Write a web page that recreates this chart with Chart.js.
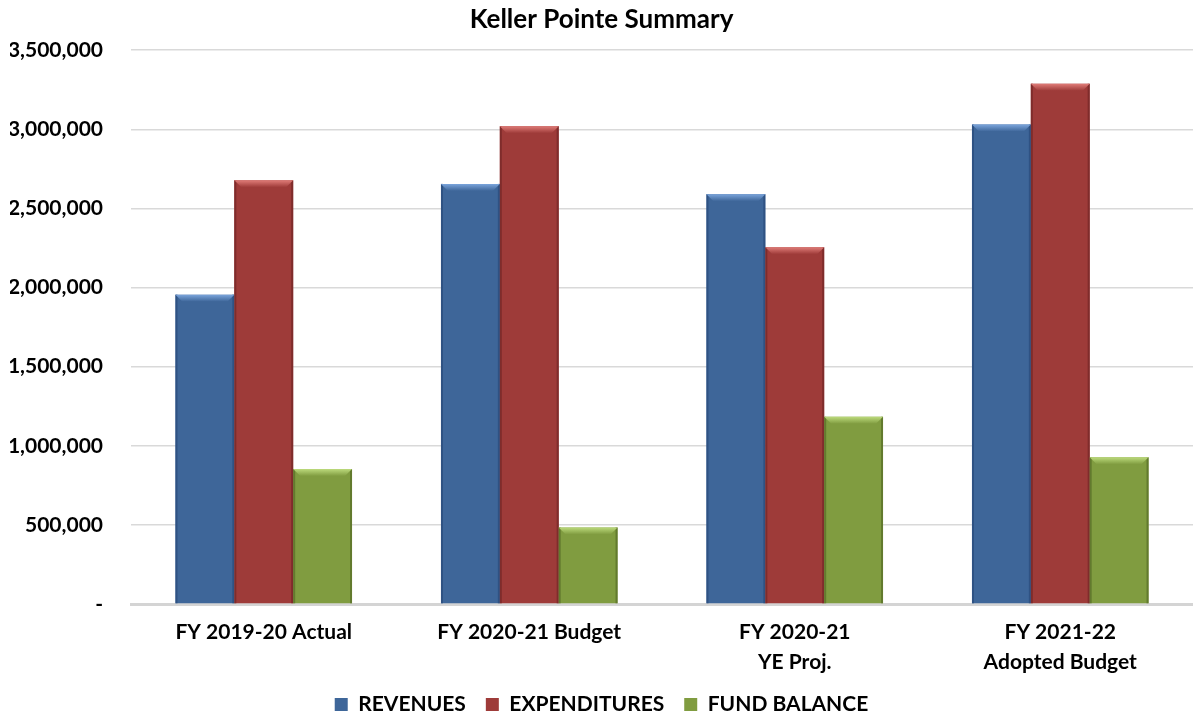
<!DOCTYPE html>
<html>
<head>
<meta charset="utf-8">
<title>Keller Pointe Summary</title>
<script src="https://cdn.jsdelivr.net/npm/chart.js@4.4.1/dist/chart.umd.min.js"></script>
<style>
  html, body { margin: 0; padding: 0; background: #fff; }
  #wrap { width: 1193px; height: 717px; position: relative; }
</style>
</head>
<body>
<div id="wrap"><canvas id="summaryChart"></canvas></div>
<script>
// === DATA ===
const categories = [
  'FY 2019-20 Actual',
  'FY 2020-21 Budget',
  ['FY 2020-21', 'YE Proj.'],
  ['FY 2021-22', 'Adopted Budget']
];
const revenues = [1955000, 2655000, 2590000, 3030000];
const expenditures = [2678000, 3020000, 2255000, 3288000];
const fundBalance = [853000, 484000, 1183000, 927000];
const yTicks = [0, 500000, 1000000, 1500000, 2000000, 2500000, 3000000, 3500000];

const FONT = 'Lato, "Open Sans", sans-serif';
const LEGEND_HEIGHT = 43;
const X_AXIS_HEIGHT = 70;
const Y_AXIS_WIDTH = 121;

// bevel look: light strip on top, darker edges on the sides
const bevelPlugin = {
  id: 'bevel',
  afterDatasetsDraw(chart) {
    const c = chart.ctx;
    chart.data.datasets.forEach((ds, i) => {
      const meta = chart.getDatasetMeta(i);
      if (meta.hidden) return;
      meta.data.forEach(bar => {
        const left = bar.x - bar.width / 2;
        const right = bar.x + bar.width / 2;
        const top = bar.y;
        const bottom = bar.base;
        const b = 7;
        c.save();
        // side shading
        c.fillStyle = ds.edgeColor;
        c.fillRect(left, top, 2, bottom - top);
        c.fillRect(right - 2, top, 2, bottom - top);
        // top bevel
        const g = c.createLinearGradient(0, top, 0, top + b);
        g.addColorStop(0, ds.bevelColor);
        g.addColorStop(1, ds.backgroundColor);
        c.beginPath();
        c.moveTo(left, top);
        c.lineTo(right, top);
        c.lineTo(right - b, top + b);
        c.lineTo(left + b, top + b);
        c.closePath();
        c.fillStyle = g;
        c.fill();
        c.restore();
      });
    });
  }
};

// legend sits lower, closer to the bottom edge
const legendFit = {
  id: 'legendFit',
  beforeInit(chart) {
    const fit = chart.legend.fit;
    chart.legend.fit = function () {
      fit.call(this);
      this.height = LEGEND_HEIGHT;
    };
  }
};

function drawChart() {
  const ctx = document.getElementById('summaryChart');
  new Chart(ctx, {
    type: 'bar',
    data: {
      labels: categories,
      datasets: [
        {
          label: 'REVENUES',
          data: revenues,
          backgroundColor: '#3E6699',
          bevelColor: '#7BA5DC',
          edgeColor: '#2F5283'
        },
        {
          label: 'EXPENDITURES',
          data: expenditures,
          backgroundColor: '#9E3B39',
          bevelColor: '#E07C78',
          edgeColor: '#7F2C2B'
        },
        {
          label: 'FUND BALANCE',
          data: fundBalance,
          backgroundColor: '#809C40',
          bevelColor: '#BCDA7C',
          edgeColor: '#627A2E'
        }
      ]
    },
    options: {
      responsive: true,
      maintainAspectRatio: false,
      animation: false,
      layout: { padding: { left: 10, right: 0, top: 4, bottom: 0 } },
      datasets: {
        bar: { categoryPercentage: 0.665, barPercentage: 1.0, borderWidth: 0 }
      },
      plugins: {
        title: {
          display: true,
          text: 'Keller Pointe Summary',
          color: '#000',
          font: { family: FONT, size: 26, weight: 'bold' },
          padding: { top: 0, bottom: 15 }
        },
        legend: {
          position: 'bottom',
          labels: {
            color: '#000',
            font: { family: FONT, size: 21, weight: 'bold' },
            boxWidth: 13,
            boxHeight: 13,
            padding: 20
          }
        },
        tooltip: { enabled: false }
      },
      scales: {
        x: {
          grid: { display: false },
          border: { display: true, color: '#D4D4D4', width: 3 },
          afterFit: axis => {
            axis.height = X_AXIS_HEIGHT;
            axis.paddingLeft = 0;
            axis.paddingRight = 0;
          },
          ticks: {
            color: '#000',
            font: { family: FONT, size: 21, weight: 'bold', lineHeight: 1.4 },
            padding: 6,
            maxRotation: 0,
            autoSkip: false
          }
        },
        y: {
          min: 0,
          max: 3500000,
          afterBuildTicks: axis => { axis.ticks = yTicks.map(v => ({ value: v })); },
          afterFit: axis => { axis.width = Y_AXIS_WIDTH; },
          grid: { color: '#D9D9D9', lineWidth: 1.5, drawTicks: false },
          border: { display: false },
          ticks: {
            color: '#000',
            font: { family: FONT, size: 21, weight: 'bold' },
            padding: 28,
            callback: v => v === 0 ? '-' : v.toLocaleString('en-US')
          }
        }
      }
    },
    plugins: [bevelPlugin, legendFit]
  });
}

// make sure Lato is ready before Chart.js measures the labels
Promise.all([
  document.fonts.load('bold 21px Lato'),
  document.fonts.load('bold 26px Lato')
]).then(drawChart, drawChart);
</script>
</body>
</html>
